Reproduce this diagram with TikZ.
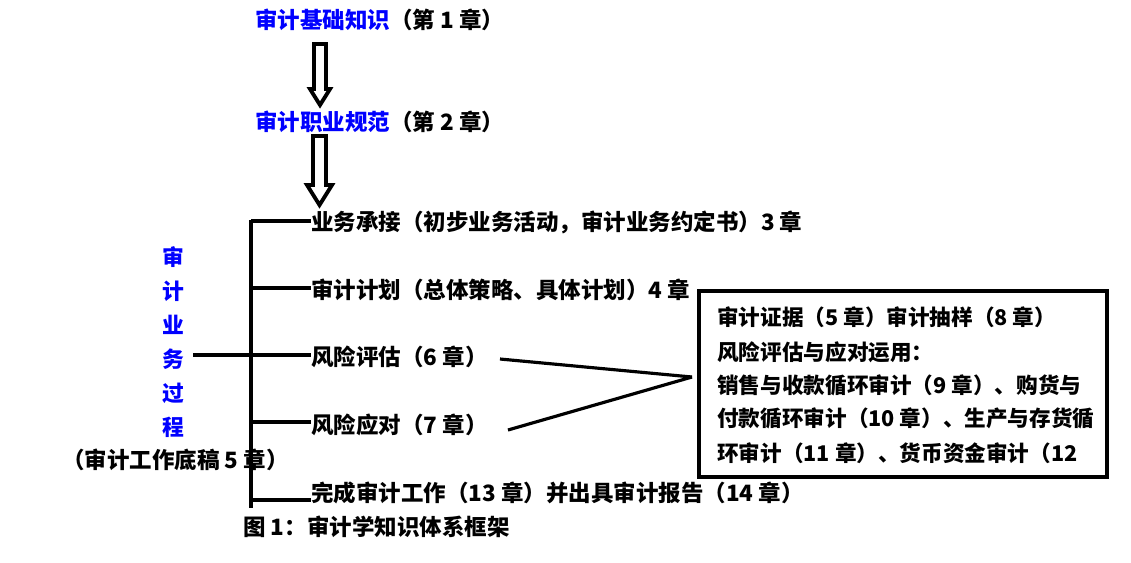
\documentclass[tikz,border=0pt]{standalone}
\usepackage{fontspec}
\setmainfont{Noto Sans CJK SC}
\usetikzlibrary{calc}
\newcommand{\HollowArrow}[4]{%
  \coordinate (HAa) at (#1);
  \coordinate (HAb) at (#2);
  \draw[line width=2.2pt,line join=miter]
    ($(HAa)+(-#3,0)$) -- ($(HAb)+(-#3,-#4*1.6)$) -- ($(HAb)+(-#4,-#4*1.6)$)
    -- (HAb) -- ($(HAb)+(#4,-#4*1.6)$) -- ($(HAb)+(#3,-#4*1.6)$)
    -- ($(HAa)+(#3,0)$) -- cycle;
}

\begin{document}
\begin{tikzpicture}[x=0.02cm,y=-0.02cm,
  every node/.style={inner sep=0pt,font=\bfseries\fontsize{12.8}{15}\selectfont},
  item/.style={anchor=west},
  boxtext/.style={anchor=west,font=\bfseries\fontsize{12.3}{15}\selectfont},
  branch/.style={line width=2.2pt},
  link/.style={line width=1.8pt}]
\useasboundingbox (0,0) rectangle (1131,562);

\node[item] (basic) at (255,20) {\textcolor{blue}{审计基础知识}（第 1 章）};
\node[item] (ethic) at (255,122) {\textcolor{blue}{审计职业规范}（第 2 章）};

\coordinate (A1s) at (320,44);
\coordinate (A1e) at (320,105);
\coordinate (A2s) at (319.5,136);
\coordinate (A2e) at (319.5,205);
\HollowArrow{A1s}{A1e}{6}{10}
\HollowArrow{A2s}{A2e}{6.5}{12.5}

\coordinate (top) at (251,220);
\coordinate (bot) at (251,508);

\node[item] (accept) at (311,222) {业务承接（初步业务活动，审计业务约定书）3 章};
\node[item] (plan)   at (311,290) {审计计划（总体策略、具体计划）4 章};
\node[item] (assess) at (311,357) {风险评估（6 章）};
\node[item] (resp)   at (311,425) {风险应对（7 章）};
\node[item] (finish) at (311,493) {完成审计工作（13 章）并出具审计报告（14 章）};

\node[align=center,text=blue,font=\bfseries\fontsize{12.4}{19.4}\selectfont]
  (proc) at (173,342) {审\\计\\业\\务\\过\\程};
\node[item] (paper) at (62,460) {（审计工作底稿 5 章）};

\draw[branch] (top) -- (bot);
\draw[branch] (193,355) coordinate (lft) -- (lft -| top);
\foreach \n/\dy in {accept/-1,plan/-2,assess/-2,resp/-3,finish/7}
  \draw[branch] ($(\n.west -| top)+(0,\dy)$) -- ($(\n.west)+(0,\dy)$);

% 应用框
\draw[line width=2.4pt] (699,291) rectangle (1107,477);
\coordinate (meet) at (692,377);
\node[boxtext] (b1) at (717,317) {审计证据（5 章）审计抽样（8 章）};
\node[boxtext] (b2) at (717,352) {风险评估与应对运用：};
\node[boxtext] (b3) at (717,385) {销售与收款循环审计（9 章）、购货与};
\node[boxtext] (b4) at (717,418) {付款循环审计（10 章）、生产与存货循};
\node[boxtext] (b5) at (717,453) {环审计（11 章）、货币资金审计（12};

\draw[link] ($(assess.east)+(12,2)$) -- (meet);
\draw[link] ($(resp.east)+(20,5)$) -- (meet);

\node[item] (cap) at (243,527) {图 1：审计学知识体系框架};
\end{tikzpicture}
\end{document}
